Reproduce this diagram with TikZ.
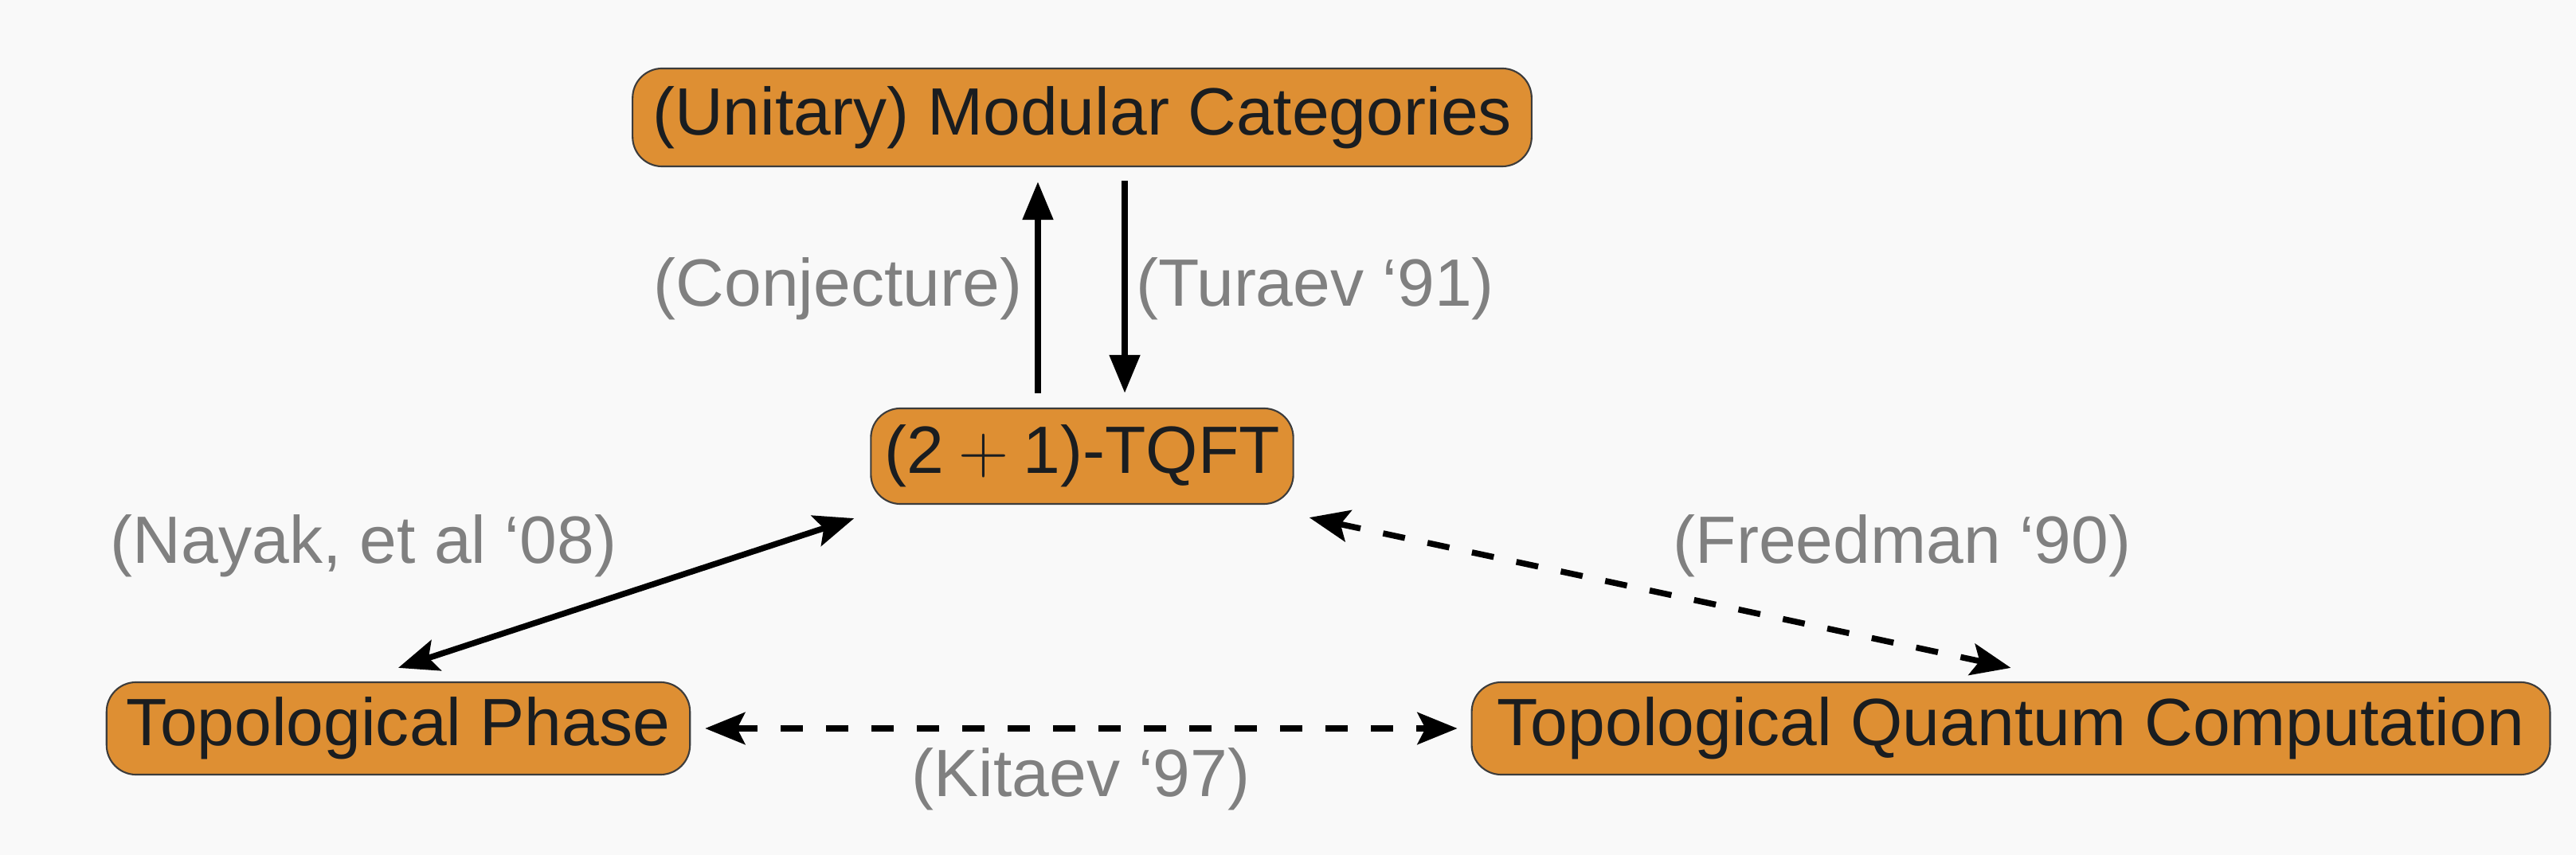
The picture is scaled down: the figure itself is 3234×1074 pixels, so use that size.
\documentclass[tikz,border=0pt]{standalone}
\usepackage{fontspec}
\setmainfont{Liberation Sans}
\usetikzlibrary{arrows.meta}
\definecolor{bgc}{HTML}{F9F9F9}
\definecolor{boxc}{HTML}{DE8F33}
\definecolor{txtc}{HTML}{1A1D20}
\definecolor{lblc}{HTML}{808080}
\definecolor{edgec}{HTML}{3C3C3C}
\begin{document}
\begin{tikzpicture}[x=0.01cm,y=-0.01cm,
  box/.style={draw=edgec, line width=0.6pt, fill=boxc, rounded corners=0.37cm,
    inner sep=0pt, text=txtc, font=\fontsize{23.9}{28}\selectfont},
  lbl/.style={anchor=base, inner sep=0pt, text=lblc, font=\fontsize{23.9}{28}\selectfont},
  vert/.style={line width=0.08cm, -{Triangle[length=0.48cm,width=0.37cm]}},
  biarrow/.style={line width=0.075cm,
    {Stealth[length=0.5cm,width=0.4cm,inset=0.1cm]}-{Stealth[length=0.5cm,width=0.4cm,inset=0.1cm]}},
  dsh/.style={dash pattern=on 0.28cm off 0.29cm}
]
\fill[bgc] (0,0) rectangle (3234,1074);
\useasboundingbox (0,0) rectangle (3234,1074);

\node[box, minimum width=11.28cm, minimum height=1.23cm] (top) at (1358.5,147.5) {(Unitary) Modular Categories};
\node[box, minimum width=5.30cm, minimum height=1.20cm] (tqft) at (1358.5,573) {(2\hspace{0.22em}$+$\hspace{0.22em}1)-TQFT};
\node[box, minimum width=7.32cm, minimum height=1.16cm] (phase) at (500,915) {Topological Phase};
\node[box, minimum width=13.53cm, minimum height=1.16cm] (tqc) at (2524.5,915) {Topological Quantum Computation};

\node[lbl] (lconj) at (1052,385) {(Conjecture)};
\node[lbl] (ltur) at (1651,385) {(Turaev ‘91)};
\node[lbl] (lnay) at (456.5,708) {(Nayak, et al ‘08)};
\node[lbl] (lfree) at (2388,708) {(Freedman ‘90)};
\node[lbl] (lkit) at (1357,1001) {(Kitaev ‘97)};

\draw[vert] ([xshift=-0.555cm,yshift=0.18cm]tqft.north) -- ([xshift=-0.555cm,yshift=-0.18cm]top.south);
\draw[vert] ([xshift=0.535cm,yshift=-0.17cm]top.south) -- ([xshift=0.535cm,yshift=0.18cm]tqft.north);
\draw[biarrow] ([yshift=0.17cm]phase.north) -- ([xshift=-0.2cm,yshift=-0.17cm]tqft.south west);
\draw[biarrow, dsh] ([xshift=0.19cm,yshift=-0.16cm]tqft.south east) -- ([yshift=0.17cm]tqc.north);
\draw[biarrow, dsh] ([xshift=0.18cm]phase.east) -- ([xshift=-0.17cm]tqc.west);
\end{tikzpicture}
\end{document}
